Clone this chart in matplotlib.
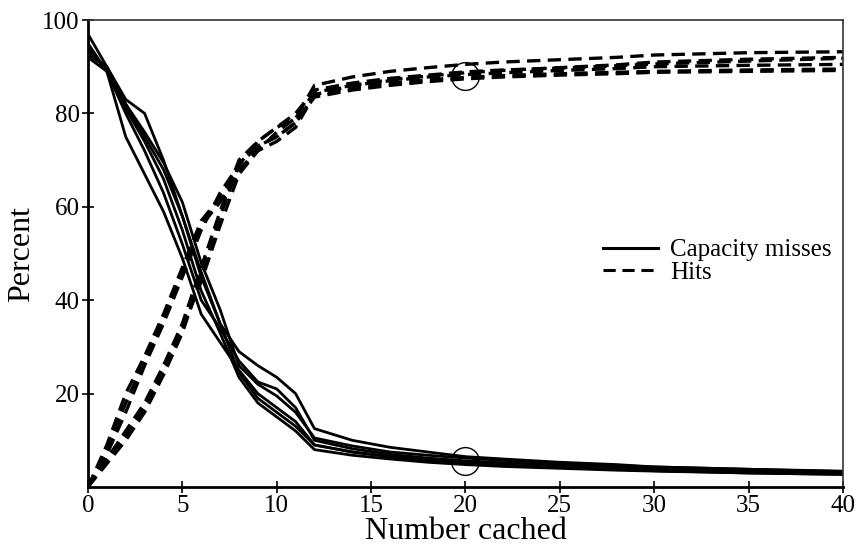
import matplotlib
matplotlib.use('Agg')
import matplotlib.pyplot as plt
from matplotlib.lines import Line2D

plt.rcParams['font.family'] = ['Liberation Serif', 'DejaVu Serif']

# number cached (x positions)
cached = [0, 1, 2, 3, 4, 5, 6, 7, 8, 9, 10, 11, 12, 14, 16, 18, 20, 22, 25, 28, 30, 35, 40]

# capacity misses, one list per run
miss_1 = [93, 90, 83, 80, 70, 58, 45, 35, 29, 26, 23.5, 20, 12.5, 10, 8.5, 7.5, 6.5, 6, 5.3, 4.8, 4.3, 3.8, 3.4]
miss_2 = [95, 89, 75, 67, 59, 49, 37, 31, 25, 20, 17, 14, 9, 7.5, 6.5, 5.8, 5.2, 4.7, 4.2, 3.8, 3.5, 3.0, 2.7]
miss_3 = [92, 89, 82, 76, 69.5, 61, 48, 38, 26, 22, 19.5, 16, 10.5, 8.8, 7.5, 6.8, 6.2, 5.7, 5.1, 4.6, 4.3, 3.8, 3.3]
miss_4 = [97, 90, 81, 74, 66, 55, 42, 33, 23.5, 18, 15, 12, 8, 6.8, 6.0, 5.3, 4.8, 4.4, 4.0, 3.6, 3.4, 3.0, 2.7]
miss_5 = [94, 89, 80, 72, 63, 52, 40, 34, 27, 22.5, 21, 17, 10, 8.2, 7.0, 6.2, 5.6, 5.2, 4.7, 4.3, 3.9, 3.5, 3.1]
miss_6 = [92.5, 90, 82, 75, 68, 58, 46, 35, 24.5, 19, 16, 13, 9, 7.5, 6.5, 5.7, 5.0, 4.6, 4.2, 3.8, 3.5, 3.2, 2.9]

# hits, one list per run
hit_1 = [0, 9, 20, 28, 37, 47, 57, 62, 68, 72, 76, 79, 86, 87.8, 89, 89.8, 90.5, 91, 91.5, 92, 92.5, 93, 93.2]
hit_2 = [0, 8, 18, 27, 36, 46, 56, 61, 67, 73, 75, 78, 84, 86, 87.2, 88, 88.7, 89.2, 89.8, 90.4, 91, 91.6, 92]
hit_3 = [0, 7, 16, 26, 35, 45, 55, 63, 69, 74, 77, 80, 85, 86.5, 87.5, 88.2, 88.9, 89.3, 89.7, 90.2, 90.6, 91.2, 91.8]
hit_4 = [0, 6, 11, 17, 25, 34, 44, 56, 67, 72, 74, 77, 84, 85.5, 86.5, 87.2, 87.7, 88.1, 88.5, 88.8, 89, 89.3, 89.5]
hit_5 = [0, 5, 10, 16, 24, 33, 45, 58, 69, 73, 75, 78, 83.5, 85, 86, 86.8, 87.4, 87.8, 88.2, 88.5, 88.8, 89, 89.2]
hit_6 = [0, 6, 12, 18, 26, 35, 47, 59, 70, 74, 77, 79, 84.5, 86, 87, 87.8, 88.3, 88.7, 89.2, 89.6, 90, 90.3, 90.5]

# circled points at 20 cached
circle_x = [20, 20]
circle_y = [88, 5.5]

fig = plt.figure(figsize=(8.59, 5.48), dpi=100)
ax = fig.add_axes([0.1024, 0.1113, 0.879, 0.8522])

for run in [miss_1, miss_2, miss_3, miss_4, miss_5, miss_6]:
    ax.plot(cached, run, color='black', linewidth=2.0, linestyle='-')
for run in [hit_1, hit_2, hit_3, hit_4, hit_5, hit_6]:
    ax.plot(cached, run, color='black', linewidth=2.4, linestyle=(0, (4, 2.2)))

ax.plot(circle_x, circle_y, linestyle='none', marker='o', markersize=20,
        markerfacecolor='none', markeredgecolor='black', markeredgewidth=1.0)

ax.set_xlim(0, 40)
ax.set_ylim(0, 100)
ax.set_xticks([0, 5, 10, 15, 20, 25, 30, 35, 40])
ax.set_yticks([20, 40, 60, 80, 100])
ax.tick_params(direction='inout', length=8, width=1.2, labelsize=18, pad=2)

for side in ['left', 'bottom']:
    ax.spines[side].set_linewidth(2.0)
    ax.spines[side].set_color('black')
for side in ['top', 'right']:
    ax.spines[side].set_linewidth(1.2)
    ax.spines[side].set_color('#333333')

ax.set_xlabel('Number cached', fontsize=23, labelpad=0)
ax.set_ylabel('Percent', fontsize=23, labelpad=4)

handles = [Line2D([], [], color='black', linewidth=2.2, linestyle='-'),
           Line2D([], [], color='black', linewidth=2.2, linestyle=(0, (4, 2.2)))]
ax.legend(handles, ['Capacity misses', 'Hits'], loc='center left',
          bbox_to_anchor=(0.665, 0.483), frameon=False, fontsize=18,
          handlelength=2.2, handletextpad=0.5, labelspacing=0.0,
          borderpad=0)

fig.savefig('out.png', dpi=100)
